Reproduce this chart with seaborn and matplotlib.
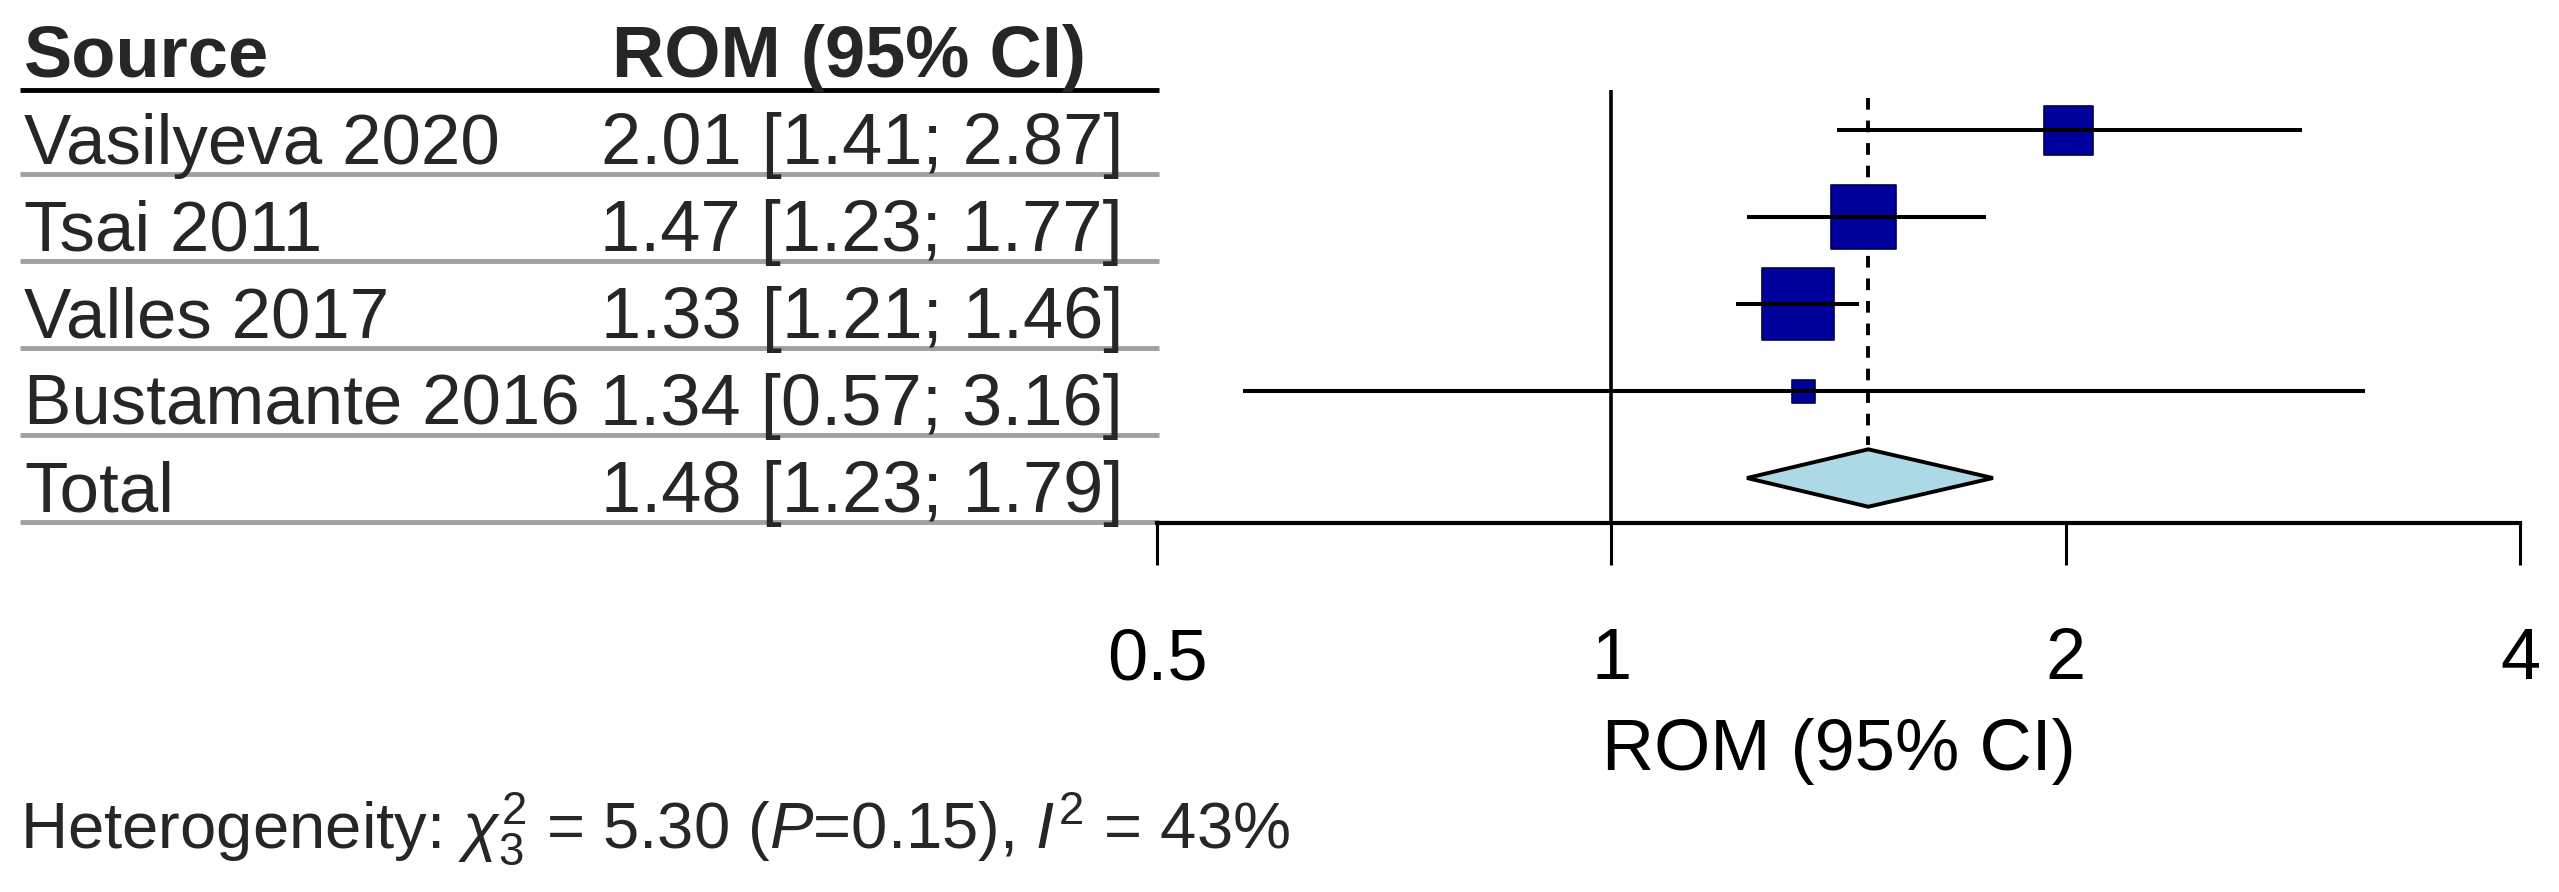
# Forest plot: ratio of means per study with pooled estimate
import pandas as pd
import seaborn as sns
import matplotlib.pyplot as plt
from matplotlib.ticker import NullLocator
from matplotlib.transforms import blended_transform_factory

sns.set_theme(style="white")
plt.rcParams['font.family'] = ['Liberation Sans', 'DejaVu Sans']
plt.rcParams['mathtext.fontset'] = 'custom'
plt.rcParams['mathtext.rm'] = 'Liberation Sans'
plt.rcParams['mathtext.it'] = 'Liberation Sans:italic'

# data
studies = ["Vasilyeva 2020", "Tsai 2011", "Valles 2017", "Bustamante 2016"]
rom = [2.01, 1.47, 1.33, 1.34]
lower = [1.41, 1.23, 1.21, 0.57]
upper = [2.87, 1.77, 1.46, 3.16]
weights = [19.5, 34.2, 42.0, 4.3]
total_name = "Total"
total_rom = 1.48
total_lower = 1.23
total_upper = 1.79
ticks = [0.5, 1, 2, 4]
tick_labels = ["0.5", "1", "2", "4"]
het_chi2 = "5.30"
het_df = "3"
het_p = "0.15"
het_i2 = "43%"

df = pd.DataFrame({"study": studies, "rom": rom, "lower": lower,
                   "upper": upper, "weight": weights, "row": range(len(studies))})

W, H = 2559, 892
fig = plt.figure(figsize=(W / 100, H / 100), dpi=100)
ax = fig.add_axes([1157 / W, (H - 523) / H, (2520 - 1157) / W, (523 - 90) / H])
ax.set_xscale('log', base=2)
ax.set_xlim(0.5, 4)
ax.set_ylim(4.517, -0.46)

# reference line and pooled estimate line
ax.axvline(1, color='black', lw=2.6, zorder=1)
ax.plot([total_rom, total_rom], [-0.37, 3.62], color='black', lw=2.8,
        dashes=(3, 2.8), zorder=1)

# study boxes, area ~ weight
k = 63.9
sns.scatterplot(data=df, x="rom", y="row", size="weight",
                sizes=(k * min(weights), k * max(weights)), marker='s',
                color='#00009C', edgecolor='#000050', linewidth=1.2,
                legend=False, ax=ax, zorder=3)
ax.hlines(df["row"], df["lower"], df["upper"], color='black', lw=2.9, zorder=4)

# pooled diamond
trow = len(studies)
ax.fill([total_lower, total_rom, total_upper, total_rom],
        [trow, trow - 0.33, trow, trow + 0.33],
        facecolor='#ADD8E6', edgecolor='black', lw=2.8, zorder=3)

for s in ['top', 'left', 'right']:
    ax.spines[s].set_visible(False)
ax.spines['bottom'].set_linewidth(3)
ax.spines['bottom'].set_color('black')
ax.set_xticks(ticks, tick_labels)
ax.xaxis.set_minor_locator(NullLocator())
ax.set_yticks([])
ax.tick_params(axis='x', bottom=True, length=30, width=2.2, pad=45,
               labelsize=52, color='black', labelcolor='black')
ax.set_xlabel("ROM (95% CI)", fontsize=52, labelpad=17, color='black')
ax.set_ylabel("")

# table on the left
tr = blended_transform_factory(fig.transFigure, ax.transData)
x_name = 24 / W
x_head2 = 612 / W
x_val = 1123 / W
base = 0.39
ax.text(x_name, -0.61, "Source", transform=tr, fontsize=52, fontweight='bold',
        va='baseline', ha='left', clip_on=False)
ax.text(x_head2, -0.61, "ROM (95% CI)", transform=tr, fontsize=52,
        fontweight='bold', va='baseline', ha='left', clip_on=False)
ax.plot([20 / W, 1159 / W], [-0.46, -0.46], transform=tr, color='black',
        lw=3.5, clip_on=False, solid_capstyle='butt')

names = studies + [total_name]
vals = [f"{m:.2f} [{l:.2f}; {u:.2f}]" for m, l, u in zip(rom, lower, upper)]
vals.append(f"{total_rom:.2f} [{total_lower:.2f}; {total_upper:.2f}]")
for i, (n, v) in enumerate(zip(names, vals)):
    ax.text(x_name, i + base, n, transform=tr, fontsize=51, va='baseline',
            ha='left', clip_on=False)
    ax.text(x_val, i + base, v, transform=tr, fontsize=52, va='baseline',
            ha='right', clip_on=False)
    ax.plot([20 / W, 1159 / W], [i + 0.5, i + 0.5], transform=tr,
            color='#A0A0A0', lw=3.5, clip_on=False, solid_capstyle='butt')

het = (r"Heterogeneity: $\chi^2_{" + het_df + r"}$ = " + het_chi2 +
       r" ($P$=" + het_p + r"), $I^2$ = " + het_i2)
fig.text(20 / W, 1 - 848 / H, het, fontsize=47, va='baseline', ha='left')

fig.savefig("out.png", dpi=100)
